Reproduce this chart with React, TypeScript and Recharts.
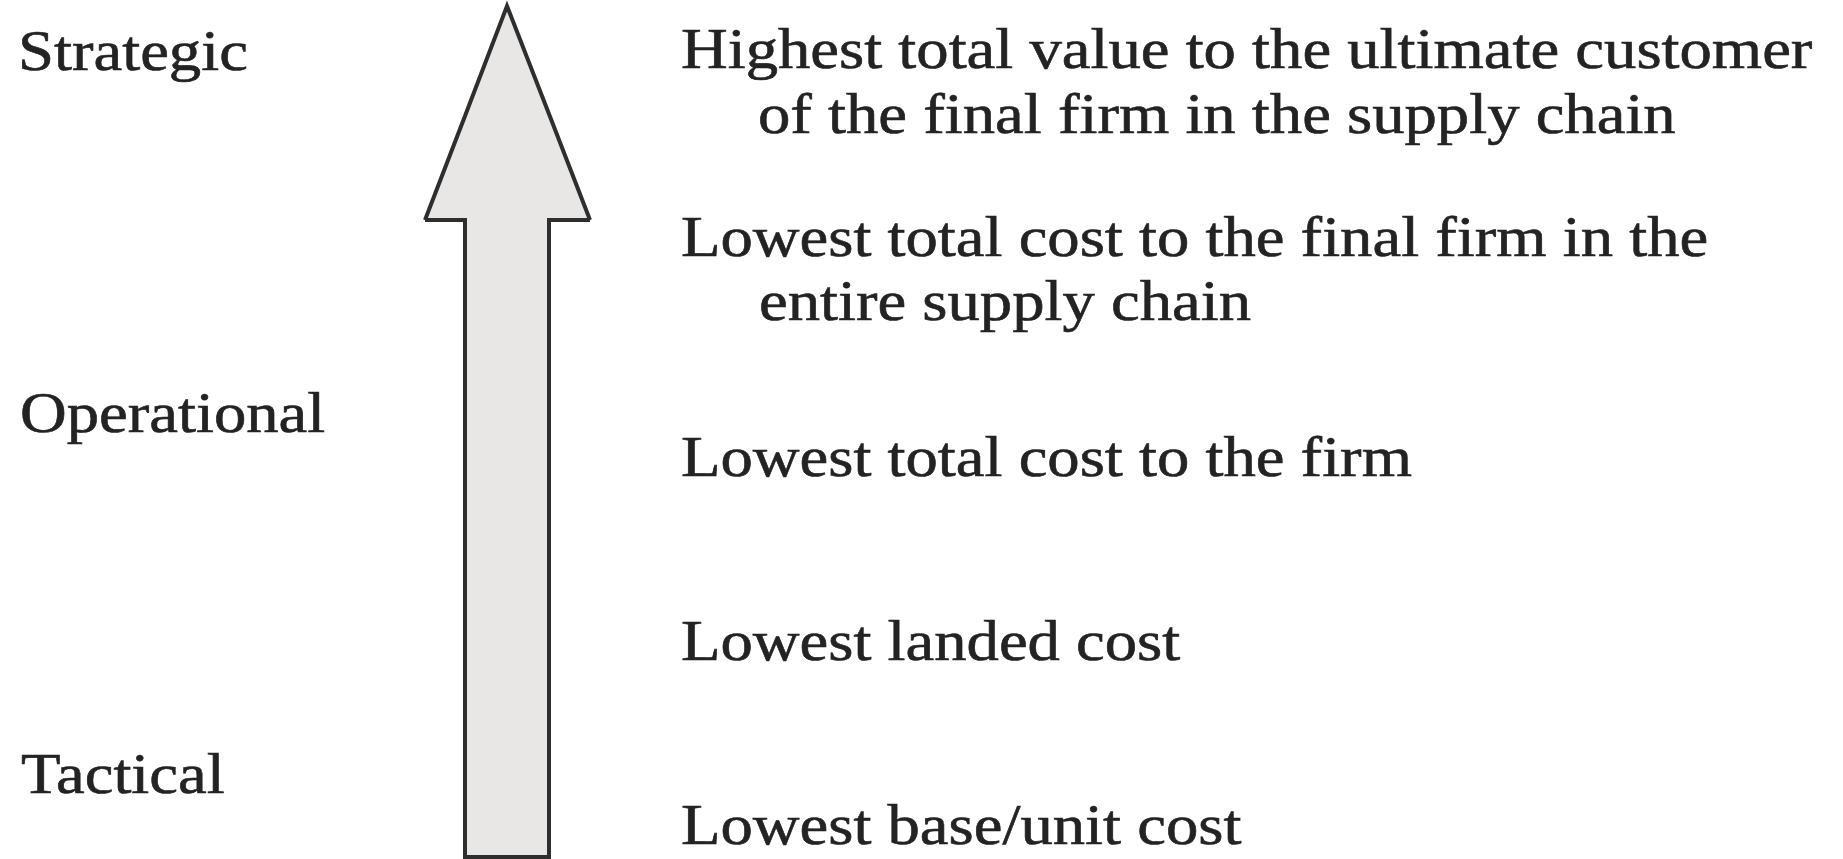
import React from "react";
import { ComposedChart, Area, Scatter, XAxis, YAxis } from "recharts";

// Tier labels on the left
const tierLabels = ["Strategic", "Operational", "Tactical"];
const tierX = [18, 20, 21];
const tierY = [70, 432, 793];

// Goal statements on the right (one entry per text line)
const goalLines = [
  "Highest total value to the ultimate customer",
  "of the final firm in the supply chain",
  "Lowest total cost to the final firm in the",
  "entire supply chain",
  "Lowest total cost to the firm",
  "Lowest landed cost",
  "Lowest base/unit cost",
];
const goalX = [681, 758, 681, 759, 681, 681, 681];
const goalY = [68, 133, 256, 320, 476, 660, 844];

// Upward arrow outline (x, [lower, upper]) in diagram units
const arrowX = [425, 465, 465, 507, 549, 549, 590];
const arrowLow = [220, 220, 857, 857, 857, 220, 220];
const arrowHigh = [220, 116, 116, 6, 114, 114, 220];

const W = 1843;
const H = 859;

const arrowData = arrowX.map((x, i) => ({ x, range: [arrowLow[i], arrowHigh[i]] }));
const tierData = tierLabels.map((label, i) => ({ x: tierX[i], y: tierY[i], label }));
const goalData = goalLines.map((label, i) => ({ x: goalX[i], y: goalY[i], label }));

const FONT = "'Liberation Serif', 'Times New Roman', serif";
const FONT_SIZE = 56;
const STRETCH = 1.155;

const TextShape = (props: any) => {
  const { cx, cy, payload } = props;
  if (cx == null || cy == null) return <g />;
  return (
    <g transform={`translate(${cx},${cy}) scale(${STRETCH},1)`}>
      <text
        x={0}
        y={0}
        fontFamily={FONT}
        fontSize={FONT_SIZE}
        fill="#232323"
        stroke="#232323"
        strokeWidth={0.6}
      >
        {payload.label}
      </text>
    </g>
  );
};

export default function App() {
  return (
    <div style={{ position: "absolute", left: 0, top: 0, width: W, height: H, background: "#ffffff" }}>
      <ComposedChart width={W} height={H} margin={{ top: 0, right: 0, bottom: 0, left: 0 }}>
        <XAxis type="number" dataKey="x" domain={[0, W]} hide allowDataOverflow />
        <YAxis type="number" dataKey="y" domain={[0, H]} reversed hide allowDataOverflow />
        <Area
          data={arrowData}
          dataKey="range"
          type="linear"
          fill="#e8e7e5"
          fillOpacity={1}
          stroke="#2e2e2e"
          strokeWidth={4}
          strokeLinejoin="miter"
          dot={false}
          activeDot={false}
          isAnimationActive={false}
        />
        <Scatter data={tierData} shape={TextShape} isAnimationActive={false} />
        <Scatter data={goalData} shape={TextShape} isAnimationActive={false} />
      </ComposedChart>
    </div>
  );
}
